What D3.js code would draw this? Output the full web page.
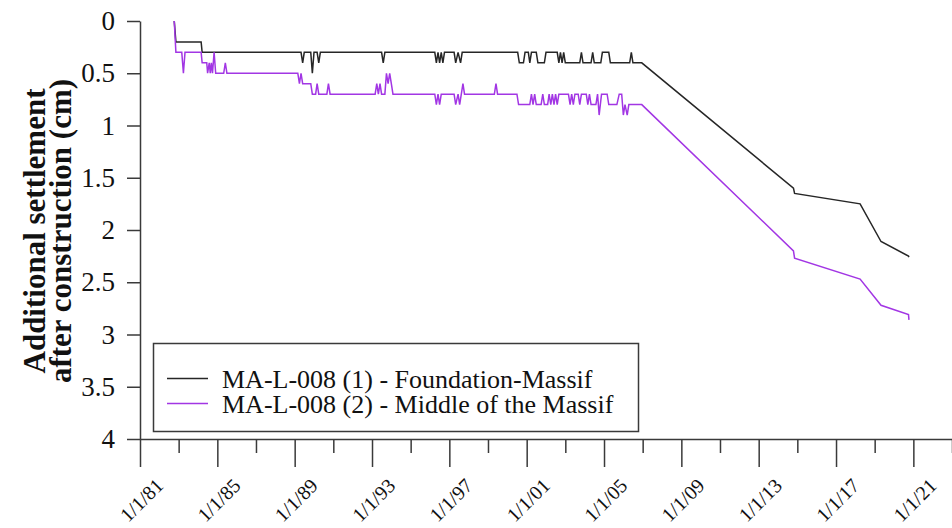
<!DOCTYPE html>
<html>
<head>
<meta charset="utf-8">
<script src="https://cdn.jsdelivr.net/npm/d3@7"></script>
<style>
  html, body { margin: 0; padding: 0; background: #fff; }
  svg { display: block; }
  svg text { font-family: "Liberation Serif", "Times New Roman", "Liberation Sans", Arial, sans-serif; }
</style>
</head>
<body>
<svg id="chart" width="952" height="528"></svg>
<script>
// Settlement readings, [date, cm]
const foundation = [
  ["1982-10-10", 0.0], ["1982-11-10", 0.2], ["1984-03-01", 0.2], ["1984-03-20", 0.3],
  ["1989-05-01", 0.3], ["1989-06-01", 0.4], ["1989-07-01", 0.3],
  ["1989-11-01", 0.3], ["1989-12-01", 0.5], ["1990-01-01", 0.3],
  ["1990-03-01", 0.3], ["1990-04-01", 0.4], ["1990-05-01", 0.3],
  ["1993-07-01", 0.3], ["1993-08-01", 0.4], ["1993-09-01", 0.3],
  ["1996-04-01", 0.3], ["1996-05-01", 0.4], ["1996-06-01", 0.3], ["1996-07-01", 0.4],
  ["1996-08-01", 0.3], ["1996-09-01", 0.4], ["1996-10-01", 0.3],
  ["1997-04-01", 0.3], ["1997-05-01", 0.4], ["1997-06-15", 0.3], ["1997-08-01", 0.4], ["1997-09-01", 0.3],
  ["2000-07-15", 0.3], ["2000-08-15", 0.4], ["2000-11-01", 0.4], ["2000-12-01", 0.3],
  ["2001-02-01", 0.3], ["2001-03-01", 0.4], ["2001-04-01", 0.3],
  ["2001-07-01", 0.3], ["2001-08-01", 0.4], ["2001-12-01", 0.4], ["2002-01-01", 0.3],
  ["2002-08-01", 0.3], ["2002-09-01", 0.4], ["2002-10-01", 0.3], ["2002-11-01", 0.4], ["2002-12-01", 0.3],
  ["2003-01-01", 0.4], ["2003-10-01", 0.4], ["2003-11-01", 0.3], ["2003-12-01", 0.4],
  ["2004-05-01", 0.4], ["2004-06-01", 0.3], ["2004-07-01", 0.4], ["2004-11-01", 0.4],
  ["2004-12-01", 0.3], ["2005-04-01", 0.3], ["2005-05-01", 0.4], ["2006-05-01", 0.4],
  ["2006-06-01", 0.3], ["2006-07-01", 0.4], ["2006-12-15", 0.4],
  ["2014-10-20", 1.60], ["2014-11-10", 1.65], ["2018-04-01", 1.75], ["2019-05-01", 2.11],
  ["2020-10-01", 2.25], ["2020-10-10", 2.26]
];

const middle = [
  ["1982-10-10", 0.0], ["1982-11-10", 0.3], ["1983-03-01", 0.3], ["1983-04-01", 0.5], ["1983-05-01", 0.3],
  ["1984-03-01", 0.3], ["1984-03-20", 0.4], ["1984-06-15", 0.4], ["1984-07-01", 0.5],
  ["1984-08-01", 0.4], ["1984-08-20", 0.5], ["1984-09-10", 0.4], ["1984-10-01", 0.5],
  ["1984-11-01", 0.3], ["1984-12-01", 0.5], ["1985-05-01", 0.5], ["1985-06-01", 0.4], ["1985-07-01", 0.5],
  ["1989-03-01", 0.5], ["1989-04-01", 0.6], ["1989-05-01", 0.5], ["1989-06-01", 0.6],
  ["1989-11-01", 0.6], ["1989-12-01", 0.7],
  ["1990-02-01", 0.7], ["1990-03-01", 0.6], ["1990-04-01", 0.7],
  ["1990-09-01", 0.7], ["1990-10-01", 0.6], ["1990-11-01", 0.7],
  ["1993-03-01", 0.7], ["1993-04-01", 0.6], ["1993-05-01", 0.7], ["1993-06-01", 0.6], ["1993-07-01", 0.7],
  ["1993-09-01", 0.7], ["1993-10-01", 0.5], ["1993-11-01", 0.6], ["1993-12-01", 0.5],
  ["1994-01-01", 0.6], ["1994-02-01", 0.7],
  ["1996-04-01", 0.7], ["1996-05-01", 0.8], ["1996-06-01", 0.7], ["1996-07-01", 0.8], ["1996-08-01", 0.7],
  ["1997-04-01", 0.7], ["1997-05-01", 0.8], ["1997-06-15", 0.7], ["1997-07-15", 0.8], ["1997-08-15", 0.7],
  ["1997-09-15", 0.6], ["1997-10-15", 0.7],
  ["1999-05-01", 0.7], ["1999-06-01", 0.6], ["1999-07-01", 0.7],
  ["2000-07-01", 0.7], ["2000-08-01", 0.8], ["2001-03-01", 0.8], ["2001-04-01", 0.7],
  ["2001-05-01", 0.8], ["2001-06-01", 0.7], ["2001-07-01", 0.8], ["2001-10-01", 0.8],
  ["2001-11-01", 0.7], ["2001-12-01", 0.8], ["2002-02-01", 0.8], ["2002-03-01", 0.7],
  ["2002-04-01", 0.8], ["2002-05-01", 0.7], ["2002-06-01", 0.8], ["2002-07-01", 0.7],
  ["2002-08-01", 0.8], ["2002-09-01", 0.7], ["2003-03-01", 0.7], ["2003-04-01", 0.8],
  ["2003-05-01", 0.7], ["2003-06-01", 0.8], ["2003-07-01", 0.7], ["2003-09-01", 0.7],
  ["2003-10-01", 0.8], ["2003-11-01", 0.7], ["2004-02-01", 0.7], ["2004-03-01", 0.8],
  ["2004-04-01", 0.7], ["2004-05-01", 0.8], ["2004-08-01", 0.8], ["2004-09-01", 0.7],
  ["2004-10-01", 0.9], ["2004-11-15", 0.7], ["2005-03-01", 0.7], ["2005-04-01", 0.8],
  ["2005-09-01", 0.8], ["2005-10-15", 0.7], ["2005-12-01", 0.7], ["2006-01-01", 0.9],
  ["2006-02-01", 0.8], ["2006-03-15", 0.9], ["2006-04-15", 0.8], ["2006-12-15", 0.8],
  ["2014-10-20", 2.20], ["2014-11-10", 2.27], ["2018-04-01", 2.47], ["2019-05-01", 2.72],
  ["2020-10-01", 2.81], ["2020-10-10", 2.86]
];

const seriesNames = ["MA-L-008 (1) - Foundation-Massif", "MA-L-008 (2) - Middle of the Massif"];
const seriesColors = ["#262626", "#a236e4"];
const yTicks = [0, 0.5, 1, 1.5, 2, 2.5, 3, 3.5, 4];
const majorTickDates = ["1981-01-01", "1985-01-01", "1989-01-01", "1993-01-01", "1997-01-01", "2001-01-01",
                        "2005-01-01", "2009-01-01", "2013-01-01", "2017-01-01", "2021-01-01"];
const minorTickDates = ["1983-01-01", "1987-01-01", "1991-01-01", "1995-01-01", "1999-01-01", "2003-01-01",
                        "2007-01-01", "2011-01-01", "2015-01-01", "2019-01-01", "2023-01-01"];
const yTitle = ["Additional settlement", "after construction (cm)"];

const fontStack = "'Liberation Serif', 'Times New Roman', 'Liberation Sans', Arial, sans-serif";
const parse = d3.utcParse("%Y-%m-%d");
const svg = d3.select("#chart");
const axisColor = "#3a3a3a";

const x = d3.scaleUtc()
  .domain([parse("1981-01-01"), parse("2023-01-01")])
  .range([140, 952]);
const y = d3.scaleLinear().domain([0, 4]).range([21, 439]);

// Y axis
const gy = svg.append("g")
  .attr("transform", "translate(140,0)")
  .call(d3.axisLeft(y).tickValues(yTicks).tickSize(13).tickSizeOuter(0).tickPadding(12).tickFormat(d => String(d)));
gy.attr("font-family", fontStack);
gy.select(".domain").attr("stroke", axisColor).attr("stroke-width", 1.5);
gy.selectAll(".tick line").attr("stroke", axisColor).attr("stroke-width", 1.5);
gy.selectAll(".tick text").attr("font-size", 27).attr("fill", "#111").style("font-family", fontStack);

// X axis: minor ticks first, then the labelled major ticks
const gxMinor = svg.append("g")
  .attr("transform", "translate(0,439)")
  .call(d3.axisBottom(x).tickValues(minorTickDates.map(parse)).tickSize(14).tickSizeOuter(0).tickFormat(""));
gxMinor.select(".domain").attr("stroke", axisColor).attr("stroke-width", 1.5);
gxMinor.selectAll(".tick line").attr("stroke", axisColor).attr("stroke-width", 1.5);

const gx = svg.append("g")
  .attr("transform", "translate(0,439)")
  .call(d3.axisBottom(x).tickValues(majorTickDates.map(parse)).tickSize(28).tickSizeOuter(0)
    .tickFormat(d3.utcFormat("%-m/%-d/%y")));
gx.attr("font-family", fontStack);
gx.select(".domain").remove();
gx.selectAll(".tick line").attr("stroke", axisColor).attr("stroke-width", 1.5);
gx.selectAll(".tick text")
  .attr("font-size", 20).attr("fill", "#111").style("font-family", fontStack)
  .attr("x", 0).attr("y", 0).attr("dy", "0.35em")
  .attr("text-anchor", "middle")
  .attr("transform", "translate(1,61) rotate(-45)");

// Series lines
const line = d3.line()
  .x(d => x(parse(d[0])))
  .y(d => y(d[1]));

[foundation, middle].forEach((s, i) => {
  svg.append("path")
    .datum(s)
    .attr("fill", "none")
    .attr("stroke", seriesColors[i])
    .attr("stroke-width", 1.5)
    .attr("stroke-linejoin", "miter")
    .attr("d", line);
});

// Legend
const lg = svg.append("g");
lg.append("rect")
  .attr("x", 153.5).attr("y", 343.5).attr("width", 485).attr("height", 88)
  .attr("fill", "#fff").attr("stroke", axisColor).attr("stroke-width", 1.5);
seriesNames.forEach((name, i) => {
  const yy = 378.5 + i * 25;
  lg.append("line")
    .attr("x1", 167).attr("x2", 208).attr("y1", yy).attr("y2", yy)
    .attr("stroke", seriesColors[i]).attr("stroke-width", 1.5);
  lg.append("text")
    .attr("x", 222).attr("y", yy + 9.5)
    .attr("font-size", 26).attr("fill", "#111")
    .style("font-family", fontStack)
    .text(name);
});

// Y axis title
const title = svg.append("text")
  .attr("transform", "translate(45,231) rotate(-90)")
  .attr("text-anchor", "middle")
  .attr("font-size", 31).attr("font-weight", "bold").attr("fill", "#111")
  .style("font-family", fontStack);
yTitle.forEach((t, i) => {
  title.append("tspan").attr("x", 0).attr("y", i * 26).text(t);
});
</script>
</body>
</html>
